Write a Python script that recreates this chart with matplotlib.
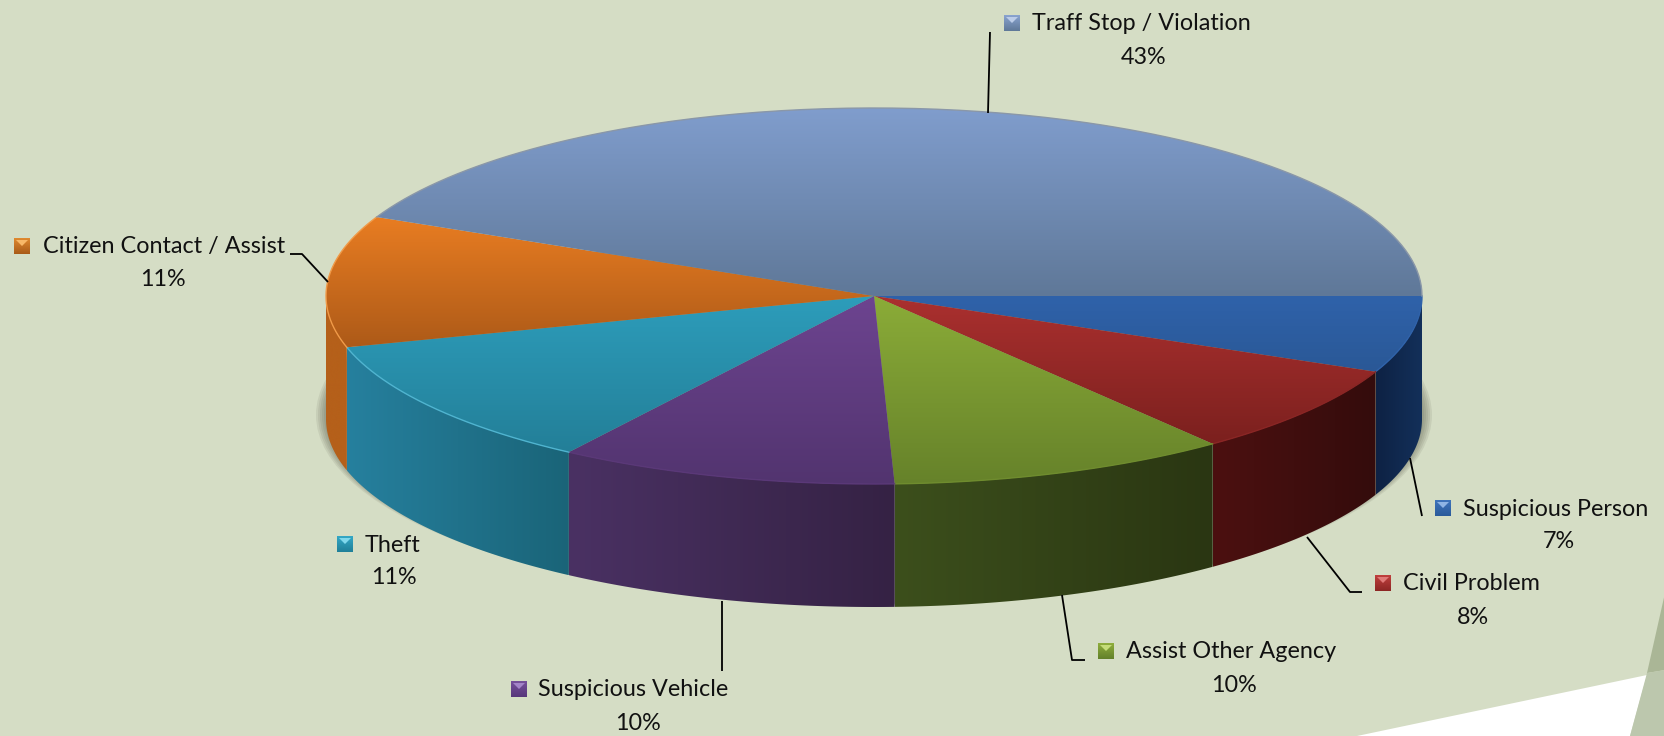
import numpy as np
import matplotlib
matplotlib.use("Agg")
import matplotlib.pyplot as plt
from matplotlib.colors import LinearSegmentedColormap
from matplotlib.patches import Ellipse, Polygon

plt.rcParams["font.family"] = ["Lato", "DejaVu Sans"]

# clockwise from 3 o'clock
categories = ["Suspicious Person", "Civil Problem", "Assist Other Agency", "Suspicious Vehicle",
              "Theft", "Citizen Contact / Assist", "Traff Stop / Violation"]
shares = [6.6, 7.8, 10.0, 10.0, 11.2, 11.3, 43.1]
pct_labels = ["7%", "8%", "10%", "10%", "11%", "11%", "43%"]

top_light = ["#2f62aa", "#ab302f", "#8bac38", "#6d4490", "#2d9dbb", "#e97d22", "#809dcd"]
top_dark = ["#2a5896", "#7b201e", "#66822a", "#52346f", "#237f98", "#ad5a18", "#5f7898"]
side_light = ["#0e2244", "#4c1010", "#3c4f1c", "#4a3163", "#26809e", "#b5601a", "#000000"]
side_dark = ["#13305a", "#340c0c", "#2a3612", "#352244", "#1a6478", "#b5601a", "#000000"]
rim_colors = ["#2f62aa", "#8a2524", "#6f8c2e", "#5a3878", "#4fb4d0", "#f09a48", "#8a97a8"]
marker_top = ["#3f74bc", "#c0403e", "#8fae3c", "#77509c", "#35a8c6", "#e08a30", "#8aa4d0"]
marker_bottom = ["#2a5a9a", "#8c2624", "#62802a", "#56367a", "#1f7f98", "#a85a18", "#5f7898"]
marker_tri = ["#8fb4e4", "#e07a78", "#c4dc78", "#a384c8", "#80d8ec", "#f8b868", "#bccce8"]

# pixel layout of the picture: name x, name y, percent x, percent y, marker x, marker y
label_pos = [
    (1463, 509, 1559, 542, 1435, 508),
    (1403, 584, 1473, 617, 1375, 583),
    (1126, 652, 1234, 686, 1098, 651),
    (538, 690, 638, 723, 511, 689),
    (365, 546, 394, 578, 337, 544),
    (43, 247, 163, 280, 14, 246),
    (1032, 24, 1144, 57, 1004, 23),
]
leaders = [
    [(1410, 458), (1422, 516)],
    [(1307, 537), (1350, 592), (1362, 592)],
    [(1062, 595), (1072, 660), (1085, 660)],
    [(722, 601), (722, 671)],
    [(328, 282), (302, 254), (290, 254)],
    [(988, 113), (990, 32)],
]

CX, CY, RX, RY, DEPTH = 874, 296, 548, 188, 123
BG = "#d5ddc5"


def gradient_fill(ax, pts, c1, c2, horizontal=False, zorder=3):
    pts = np.asarray(pts)
    patch = Polygon(pts, closed=True, facecolor="none", edgecolor="none", zorder=zorder)
    ax.add_patch(patch)
    cmap = LinearSegmentedColormap.from_list("g", [c1, c2])
    grad = np.linspace(0, 1, 256)
    grad = grad.reshape(1, -1) if horizontal else grad.reshape(-1, 1)
    x0, y0 = pts.min(axis=0)
    x1, y1 = pts.max(axis=0)
    im = ax.imshow(grad, cmap=cmap, extent=(x0, x1, y1, y0), aspect="auto", zorder=zorder)
    im.set_clip_path(patch)


fig = plt.figure(figsize=(16.65, 7.36), dpi=100, facecolor=BG)
ax = fig.add_axes([0, 0, 1, 1])
ax.set_facecolor(BG)

# slide decoration, lower right corner
ax.add_patch(Polygon([(1357, 736), (1647, 675), (1630, 736)], color="white", lw=0, zorder=1))
ax.add_patch(Polygon([(1647, 673), (1665, 593), (1665, 670)], color="#aab696", lw=0, zorder=1))
ax.add_patch(Polygon([(1647, 673), (1665, 670), (1665, 736), (1630, 736)], color="#bcc7ad", lw=0, zorder=1))

# soft shadow under the pie
for grow in range(10, 0, -2):
    ax.add_patch(Ellipse((CX, CY + DEPTH - 4), 2 * (RX + grow), 2 * (RY + grow * 0.2),
                         color="#3c3c30", alpha=0.09, lw=0, zorder=2))

edges = np.concatenate([[0], np.cumsum(shares)]) / np.sum(shares) * 2 * np.pi


def rim(a, b):
    t = np.linspace(a, b, 200)
    return np.column_stack([CX + RX * np.cos(t), CY + RY * np.sin(t)])


# side walls, only the front half shows
for i in range(len(shares)):
    a, b = edges[i], min(edges[i + 1], np.pi)
    if a >= np.pi:
        continue
    arc = rim(a, b)
    pts = np.vstack([arc, arc[::-1] + [0, DEPTH]])
    gradient_fill(ax, pts, side_light[i], side_dark[i], horizontal=True, zorder=3)

# top faces
for i in range(len(shares)):
    pts = np.vstack([[CX, CY], rim(edges[i], edges[i + 1])])
    gradient_fill(ax, pts, top_light[i], top_dark[i], zorder=4)
    arc = rim(edges[i], edges[i + 1])
    ax.plot(arc[:, 0], arc[:, 1], color=rim_colors[i], lw=1.0, zorder=5)

# leader lines
for line in leaders:
    xs, ys = zip(*line)
    ax.plot(xs, ys, color="black", lw=1.3, zorder=6, solid_capstyle="butt")

# labels with their small legend keys
for i, name in enumerate(categories):
    nx, ny, px, py, mx, my = label_pos[i]
    ax.text(nx, ny, name, fontsize=16.8, color="#111111", ha="left", va="center", zorder=7)
    ax.text(px, py, pct_labels[i], fontsize=16.8, color="#111111", ha="center", va="center", zorder=7)
    square = [(mx, my - 8), (mx + 16, my - 8), (mx + 16, my + 8), (mx, my + 8)]
    gradient_fill(ax, square, marker_top[i], marker_bottom[i], zorder=7)
    ax.add_patch(Polygon([(mx + 2, my - 6), (mx + 14, my - 6), (mx + 8, my)],
                         color=marker_tri[i], lw=0, zorder=8))

ax.set_xlim(0, 1665)
ax.set_ylim(736, 0)
ax.axis("off")
fig.savefig("out.png", dpi=100, facecolor=BG)
